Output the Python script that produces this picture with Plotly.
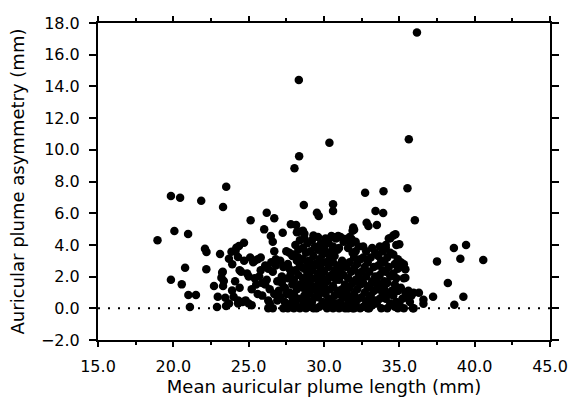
import plotly.graph_objects as go

# ---- data (x = mean plume length mm, y = asymmetry mm) ----
high_pts = [(36.17, 17.4), (28.33, 14.4), (30.36, 10.45), (35.63, 10.66), (28.35, 9.6),
            (28.04, 8.83), (32.73, 7.29), (33.95, 7.38), (35.54, 7.57), (23.51, 7.67),
            (19.84, 7.08), (20.45, 6.98), (21.85, 6.79), (23.3, 6.39)]

mid_pts = [(28.66, 6.52), (29.53, 6.03), (29.65, 5.82), (30.6, 6.56), (30.6, 6.14),
           (26.2, 6.03), (26.7, 5.68), (25.13, 5.55), (33.42, 6.14), (33.93, 6.01),
           (36.03, 5.55), (32.83, 5.4), (32.95, 5.19), (33.51, 5.26), (32.0, 4.96),
           (34.74, 4.67), (34.4, 4.42), (28.15, 5.26), (26.03, 4.98), (27.26, 4.77),
           (26.47, 4.56), (28.4, 4.85), (28.7, 4.7), (31.94, 5.09), (30.49, 4.56),
           (30.94, 4.56), (31.38, 4.37), (31.83, 4.37), (27.8, 5.3)]

left_pts = [(20.07, 4.88), (20.98, 4.69), (18.95, 4.29), (22.1, 3.75), (22.2, 3.55),
            (23.1, 3.43), (23.69, 3.13), (23.86, 3.57), (24.18, 3.82), (24.36, 3.93),
            (24.29, 3.24), (23.91, 2.78), (20.78, 2.56), (22.19, 2.46), (23.28, 2.31),
            (23.19, 1.93), (24.4, 2.4), (19.84, 1.8), (20.56, 1.51), (22.7, 1.41),
            (23.3, 1.4), (23.9, 1.13), (21.0, 0.84), (21.5, 0.84), (22.95, 0.73),
            (23.45, 0.67), (24.0, 0.73), (21.1, 0.08), (22.9, 0.08), (23.5, 0.15),
            (23.7, 0.3), (24.3, 0.3), (24.69, 4.14), (24.13, 3.61), (24.9, 2.2),
            (24.5, 2.3), (24.1, 1.7), (24.4, 1.3), (23.35, 1.72), (23.24, 2.25),
            (24.3, 0.5), (24.6, 0.4), (24.8, 0.5), (24.7, 3.0)]

right_pts = [(38.62, 3.8), (39.43, 3.99), (39.05, 3.13), (40.57, 3.05), (37.5, 2.96),
             (38.22, 1.6), (36.3, 0.98), (35.95, 0.98), (36.6, 0.54), (36.6, 0.29),
             (37.24, 0.73), (39.25, 0.73), (38.65, 0.23), (35.95, 0.0)]

core_pts = [
    (25.1, 3.2), (25.3, 2.9), (25.0, 2.0), (25.4, 1.9), (25.2, 1.2), (25.5, 1.5), (25.0, 0.3), (25.2, 0.2), (25.4, 3.0),
    (25.6, 3.1), (25.8, 2.4), (25.7, 2.0), (25.9, 1.6), (25.6, 0.9), (25.9, 0.8), (25.8, 3.2),
    (26.1, 2.7), (26.3, 2.5), (26.2, 1.8), (26.4, 1.2), (26.3, 0.5), (26.3, 0.0), (26.4, 0.3), (26.1, 1.5), (26.5, 2.9),
    (26.6, 4.2), (26.7, 3.6), (26.8, 3.1), (26.6, 2.3), (26.9, 1.7), (26.7, 0.9), (26.6, 0.0), (26.9, 0.5), (26.8, 2.7), (27.0, 1.1),
    (27.1, 3.0), (27.3, 2.6), (27.2, 2.0), (27.4, 1.3), (27.1, 0.7), (27.3, 0.0), (27.4, 0.4), (27.2, 1.6), (27.5, 0.9),
    (27.7, 3.5), (27.9, 3.3), (27.6, 2.8), (27.8, 2.2), (27.6, 1.9), (27.9, 1.5), (27.7, 1.0), (27.6, 0.0), (27.8, 0.3), (27.9, 0.7), (27.5, 3.6), (27.7, 2.5),
    (28.2, 4.8), (28.4, 4.3), (28.1, 4.0), (28.3, 3.7), (28.0, 3.4), (28.2, 3.0), (28.4, 2.7), (28.1, 2.4), (28.3, 2.1), (28.0, 1.8),
    (28.4, 1.5), (28.2, 1.2), (28.0, 0.9), (28.3, 0.6), (28.1, 0.3), (28.4, 0.0), (28.0, 0.0), (28.3, 3.2), (28.5, 2.6),
    (28.6, 4.9), (28.7, 4.4), (28.9, 4.1), (28.6, 3.8), (28.8, 3.5), (28.6, 3.1), (28.9, 2.9), (28.7, 2.5), (28.9, 2.2), (28.6, 1.9),
    (28.8, 1.6), (28.6, 1.3), (28.9, 1.1), (28.7, 0.8), (28.9, 0.5), (28.6, 0.2), (28.8, 0.0), (29.0, 1.8), (28.5, 0.6),
    (29.3, 4.6), (29.2, 4.3), (29.4, 3.9), (29.1, 3.6), (29.3, 3.3), (29.0, 3.0), (29.4, 2.8), (29.2, 2.4), (29.0, 2.1), (29.4, 1.9),
    (29.1, 1.5), (29.3, 1.2), (29.0, 0.9), (29.4, 0.7), (29.2, 0.4), (29.0, 0.1), (29.3, 0.0), (29.5, 1.4), (29.1, 2.6),
    (29.6, 4.5), (29.8, 4.1), (29.6, 3.7), (29.9, 3.4), (29.7, 3.1), (29.5, 2.7), (29.8, 2.5), (29.6, 2.2), (29.9, 1.9), (29.7, 1.6),
    (29.5, 1.1), (29.8, 1.0), (29.6, 0.7), (29.9, 0.4), (29.7, 0.1), (29.5, 0.0), (29.9, 2.9), (30.0, 1.3),
    (30.1, 4.4), (30.3, 4.1), (30.0, 3.8), (30.2, 3.5), (30.4, 3.2), (30.1, 2.9), (30.3, 2.6), (30.0, 2.3), (30.4, 2.0), (30.2, 1.7),
    (30.0, 1.5), (30.4, 1.2), (30.1, 0.9), (30.3, 0.6), (30.0, 0.3), (30.2, 0.0), (30.4, 0.2), (30.5, 3.6), (30.3, 1.9),
    (30.6, 4.5), (30.8, 4.4), (30.6, 3.9), (30.9, 3.7), (30.7, 3.3), (30.6, 2.9), (30.9, 2.7), (30.7, 2.4), (30.5, 2.1), (30.8, 1.8),
    (30.6, 1.4), (30.9, 1.1), (30.7, 0.8), (30.5, 0.5), (30.8, 0.3), (30.6, 0.0), (31.0, 0.0), (30.9, 2.0),
    (31.1, 4.5), (31.3, 4.2), (31.0, 3.8), (31.2, 3.0), (31.4, 2.7), (31.1, 2.4), (31.3, 2.1), (31.0, 1.8), (31.4, 1.5), (31.2, 1.2),
    (31.0, 0.9), (31.3, 0.7), (31.1, 0.4), (31.4, 0.0), (31.2, 0.1), (31.5, 1.0),
    (31.9, 4.9), (31.7, 4.5), (31.8, 4.1), (31.6, 3.8), (31.9, 3.5), (31.7, 2.9), (31.5, 2.6), (31.8, 2.3), (31.6, 1.9), (31.9, 1.6),
    (31.7, 1.3), (31.5, 0.8), (31.8, 0.6), (31.6, 0.3), (31.9, 0.0), (31.6, 0.0), (32.0, 3.2),
    (32.1, 4.2), (32.3, 3.9), (32.1, 3.6), (32.4, 3.1), (32.2, 2.8), (32.0, 2.5), (32.3, 2.2), (32.1, 1.8), (32.4, 1.5), (32.2, 1.2),
    (32.0, 0.9), (32.3, 0.6), (32.1, 0.3), (32.4, 0.0), (32.0, 0.0), (32.5, 1.8),
    (32.6, 3.9), (32.8, 3.6), (32.6, 3.2), (32.9, 2.9), (32.7, 2.6), (32.5, 2.3), (32.8, 2.0), (32.6, 1.6), (32.9, 1.3), (32.7, 1.0),
    (32.5, 0.7), (32.8, 0.4), (32.6, 0.1), (32.9, 0.0), (33.0, 0.6),
    (33.2, 3.8), (33.4, 3.5), (33.1, 3.2), (33.3, 2.6), (33.0, 2.3), (33.4, 2.0), (33.2, 1.7), (33.0, 1.4), (33.3, 1.1), (33.1, 0.8),
    (33.4, 0.5), (33.2, 0.2), (33.0, 0.0), (33.5, 1.5),
    (33.7, 3.9), (33.9, 3.6), (33.6, 3.3), (33.8, 3.0), (33.6, 2.7), (33.9, 2.4), (33.7, 2.1), (33.5, 1.8), (33.8, 1.5), (33.6, 1.2),
    (33.9, 0.9), (33.7, 0.6), (33.5, 0.3), (33.8, 0.0), (34.0, 1.7),
    (34.3, 4.4), (34.1, 4.0), (34.4, 3.5), (34.2, 3.2), (34.0, 2.9), (34.3, 2.6), (34.1, 2.3), (34.4, 2.0), (34.2, 1.6), (34.0, 1.2),
    (34.3, 0.9), (34.1, 0.6), (34.4, 0.3), (34.2, 0.0), (34.5, 1.1),
    (34.6, 4.6), (34.8, 4.0), (34.6, 3.4), (34.9, 3.1), (34.7, 2.8), (34.9, 2.5), (34.6, 2.2), (34.8, 1.9), (34.7, 1.5), (34.9, 1.1),
    (34.6, 0.8), (34.8, 0.4), (34.7, 0.1), (34.9, 0.0),
    (35.1, 2.9), (35.2, 2.6), (35.3, 1.9), (35.1, 1.3), (35.4, 1.0), (35.2, 0.6), (35.0, 0.3), (35.3, 0.0),
    (35.6, 1.1), (35.8, 0.8), (35.7, 0.4), (35.9, 0.0), (35.6, 0.6),
    (35.3, 2.78), (35.4, 2.46), (35.4, 1.93), (34.1, 3.82), (35.0, 4.04),
]

x_ticks = [15, 20, 25, 30, 35, 40, 45]
y_ticks = [-2, 0, 2, 4, 6, 8, 10, 12, 14, 16, 18]

all_pts = high_pts + mid_pts + left_pts + right_pts + core_pts
xs = [p[0] for p in all_pts]
ys = [p[1] for p in all_pts]

FONT = "DejaVu Sans, Liberation Sans, Arial, sans-serif"

fig = go.Figure()
fig.add_trace(go.Scatter(
    x=xs, y=ys, mode="markers",
    marker=dict(color="black", size=8.5, line=dict(width=0)),
    showlegend=False, hoverinfo="skip",
))

# dotted zero line across the plot
fig.add_shape(type="line", xref="x", yref="y", x0=15, x1=45, y0=0, y1=0,
              line=dict(color="black", width=2, dash="2px,8px"))

axis_common = dict(
    showgrid=False, zeroline=False, showline=True, linecolor="black", linewidth=2,
    mirror="ticks", ticks="outside", tickcolor="black", tickwidth=2,
    tickfont=dict(family=FONT, size=16, color="black"), tickformat=".1f",
    automargin=False,
)

fig.update_xaxes(
    range=[15, 45], tickvals=x_ticks, ticklen=5, ticklabelstandoff=6,
    minor=dict(dtick=2.5, tick0=15, ticks="outside", ticklen=3, tickwidth=2, tickcolor="black"),
    title=dict(text="Mean auricular plume length (mm)", font=dict(family=FONT, size=18, color="black"), standoff=4),
    **axis_common,
)
fig.update_yaxes(
    range=[-2, 18], tickvals=y_ticks, ticklen=7, ticklabelstandoff=6,
    title=dict(text="Auricular plume asymmetry (mm)", font=dict(family=FONT, size=18, color="black"), standoff=12),
    **axis_common,
)

fig.update_layout(
    width=575, height=402,
    margin=dict(l=98, r=25, t=23, b=62),
    paper_bgcolor="white", plot_bgcolor="white",
    font=dict(family=FONT, color="black"),
)

fig.write_html("out.html", config={"displayModeBar": False},
               post_script="document.body.style.margin='0px';document.body.style.overflow='hidden';")
